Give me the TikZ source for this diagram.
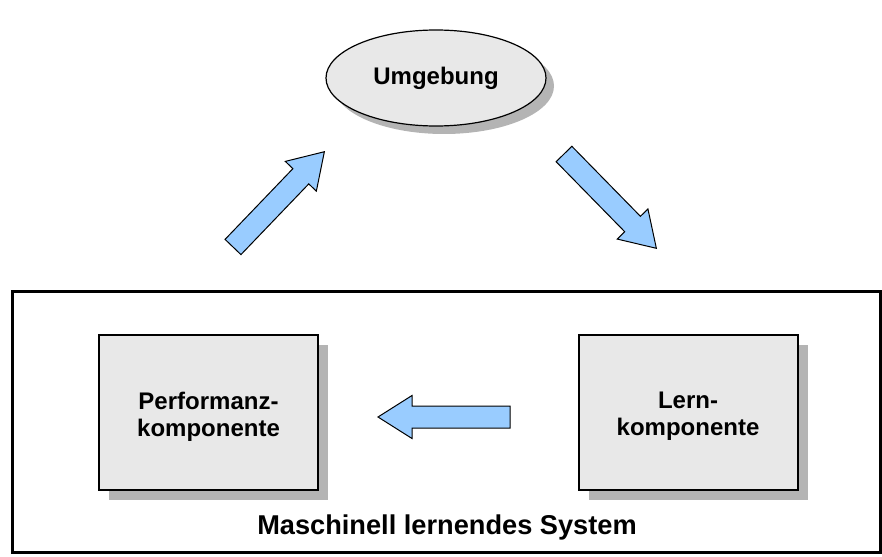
\documentclass[tikz,border=0pt]{standalone}
\usepackage{fontspec}
\setmainfont{Liberation Sans}
\usetikzlibrary{shapes.geometric,shadows}
\definecolor{boxgray}{HTML}{E8E8E8}
\definecolor{shadowgray}{HTML}{B4B4B4}
\definecolor{arrowblue}{HTML}{99CCFF}
\tikzset{
  comp/.style={draw=black, line width=2pt, fill=boxgray, rectangle,
    minimum width=219pt, minimum height=155pt, inner sep=0pt,
    drop shadow={shadow xshift=10pt, shadow yshift=-10pt, fill=shadowgray, opacity=1}},
  comptext/.style={align=center, inner sep=0pt, yshift=-4pt,
    font=\fontsize{24}{27}\selectfont\bfseries},
  env/.style={draw=black, line width=1.2pt, fill=boxgray, ellipse,
    minimum width=220pt, minimum height=96pt, inner sep=0pt,
    font=\fontsize{24}{26}\selectfont\bfseries,
    drop shadow={shadow xshift=8pt, shadow yshift=-8pt, fill=shadowgray, opacity=1}},
  sysframe/.style={draw=black, line width=3pt},
  blockarrow/.pic={
    \draw[draw=black, line width=1pt, fill=arrowblue, line join=miter]
      (0,-11) -- (98,-11) -- (98,-21.5) -- (132,0) -- (98,21.5) -- (98,11) -- (0,11) -- cycle;
  }
}
\begin{document}
\begin{tikzpicture}[x=1pt, y=-1pt]
  \useasboundingbox (0,0) rectangle (882,556);
  % outer system frame and its caption
  \draw[sysframe] (12,291) rectangle (880,552);
  \node[font=\fontsize{27.2}{29}\selectfont\bfseries] (caption) at (447,527) {Maschinell lernendes System};
  % environment and the two components
  \node[env] (umg) at (436,78) {Umgebung};
  \node[comp, label={[comptext]center:Performanz-\\komponente}] (perf) at (208.5,412.5) {};
  \node[comp, label={[comptext]center:Lern-\\komponente}] (lern) at (688,412.5) {};
  % tails of the three block arrows
  \coordinate (upTail) at (233,247);
  \coordinate (downTail) at (564,154);
  \coordinate (leftTail) at (510,417);
  \pic[rotate=46.2] at (upTail) {blockarrow};
  \pic[rotate=-45.6] at (downTail) {blockarrow};
  \pic[rotate=180] at (leftTail) {blockarrow};
\end{tikzpicture}
\end{document}
